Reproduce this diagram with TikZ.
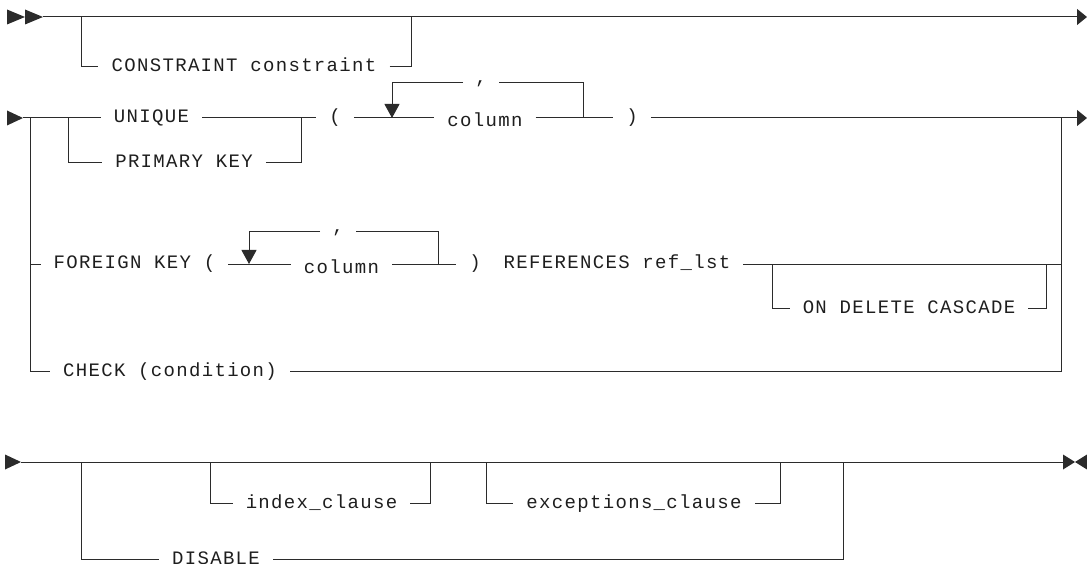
\documentclass[tikz,border=0pt]{standalone}
\usepackage{fontspec}
\newfontfamily\railfont{Liberation Mono}[LetterSpace=7]
\usepackage{tikz}
\usetikzlibrary{arrows.meta}
\definecolor{railInk}{HTML}{2b2b2b}
\definecolor{railText}{HTML}{1e1e1e}

\begin{document}
\begin{tikzpicture}[x=1pt, y=-1pt,
  rail/.style={draw=railInk, line width=1pt},
  kw/.style={font=\railfont\fontsize{19}{19}\selectfont, text=railText, inner xsep=13pt, inner ysep=0pt, text height=10pt, text depth=0pt, anchor=center},
  kwlow/.style={kw, text height=18pt},
  sepkw/.style={kw, inner xsep=12pt, text height=2pt},
  endtip/.style={-{Triangle[length=10pt,width=16pt]}},
  looptip/.style={-{Triangle[length=14pt,width=15pt]}}]
\useasboundingbox (0,0) rectangle (1087,564);
% row 1: optional constraint name
\coordinate (r1in) at (43,17); \coordinate (r1out) at (1087,17);
\coordinate (r1a) at (81,17); \coordinate (r1b) at (411,17);
\node[kw] (cons) at (244,67) {CONSTRAINT constraint};
\fill[railInk] (7,9.5) -- (25,17) -- (7,24.5) -- cycle;
\fill[railInk] (25,9.5) -- (43,17) -- (25,24.5) -- cycle;
\draw[rail, endtip] (r1in) -- (r1out);
\draw[rail] (r1a) |- (cons.west); \draw[rail] (cons.east) -| (r1b);
% row 2: unique / primary key
\coordinate (r2in) at (23,118); \coordinate (r2out) at (1087,118);
\coordinate (r2l) at (30,118); \coordinate (r2r) at (1061,118);
\coordinate (pkl) at (68,118); \coordinate (pkr) at (301,118);
\coordinate (lp1a) at (392,118); \coordinate (lp1b) at (583,118);
\node[kw] (uniq) at (151.5,118) {UNIQUE};
\node[kw] (pk) at (184,163) {PRIMARY KEY};
\node[kw] (lp1) at (335,118) {(};
\node[kwlow] (col1) at (485,118) {column};
\node[kw] (rp1) at (632,118) {)};
\node[sepkw] (cm1) at (481,83) {,};
\fill[railInk] (7,110.5) -- (23,118) -- (7,125.5) -- cycle;
\draw[rail] (r2in) -- (uniq.west); \draw[rail] (uniq.east) -- (lp1.west);
\draw[rail] (pkl) |- (pk.west); \draw[rail] (pk.east) -| (pkr);
\draw[rail] (lp1.east) -- (col1.west); \draw[rail] (col1.east) -- (rp1.west);
\draw[rail, endtip] (rp1.east) -- (r2out);
\draw[rail] (lp1b) |- (cm1.east); \draw[rail, looptip] (cm1.west) -| (lp1a);
% foreign key
\coordinate (fkl) at (30,264); \coordinate (fkr) at (1061,264);
\coordinate (lp2a) at (249,264); \coordinate (lp2b) at (438,264);
\coordinate (odcl) at (772,264); \coordinate (odcr) at (1046,264);
\node[kw] (fk) at (134.5,264) {FOREIGN KEY (};
\node[kwlow] (col2) at (341.5,264) {column};
\node[kw] (rp2) at (475,264) {)};
\node[kw] (refs) at (617,264) {REFERENCES ref\_lst};
\node[kw] (odc) at (909,308) {ON DELETE CASCADE};
\node[sepkw] (cm2) at (338,232) {,};
\draw[rail] (fkl) -- (fk.west); \draw[rail] (fk.east) -- (col2.west);
\draw[rail] (col2.east) -- (rp2.west);
\draw[rail] (lp2b) |- (cm2.east); \draw[rail, looptip] (cm2.west) -| (lp2a);
\draw[rail] (refs.east) -- (fkr);
\draw[rail] (odcl) |- (odc.west); \draw[rail] (odc.east) -| (odcr);
% check
\node[kw] (ck) at (170,371) {CHECK (condition)};
\draw[rail] (r2l) |- (ck.west); \draw[rail] (ck.east) -| (r2r);
% row 3: index / exceptions / disable
\coordinate (r3in) at (21,462); \coordinate (r3out) at (1063,462);
\coordinate (disl) at (81,462); \coordinate (disr) at (843,462);
\coordinate (idxl) at (210,462); \coordinate (idxr) at (430,462);
\coordinate (excl) at (486,462); \coordinate (excr) at (780,462);
\node[kw] (dis) at (216,559) {DISABLE};
\node[kw] (idx) at (321.5,503) {index\_clause};
\node[kw] (exc) at (634,503) {exceptions\_clause};
\fill[railInk] (5,454.5) -- (21,462) -- (5,469.5) -- cycle;
\draw[rail] (r3in) -- (r3out);
\fill[railInk] (1063,454.5) -- (1075,462) -- (1063,469.5) -- cycle;
\fill[railInk] (1087,454.5) -- (1075,462) -- (1087,469.5) -- cycle;
\draw[rail] (disl) |- (dis.west); \draw[rail] (dis.east) -| (disr);
\draw[rail] (idxl) |- (idx.west); \draw[rail] (idx.east) -| (idxr);
\draw[rail] (excl) |- (exc.west); \draw[rail] (exc.east) -| (excr);
\end{tikzpicture}
\end{document}
